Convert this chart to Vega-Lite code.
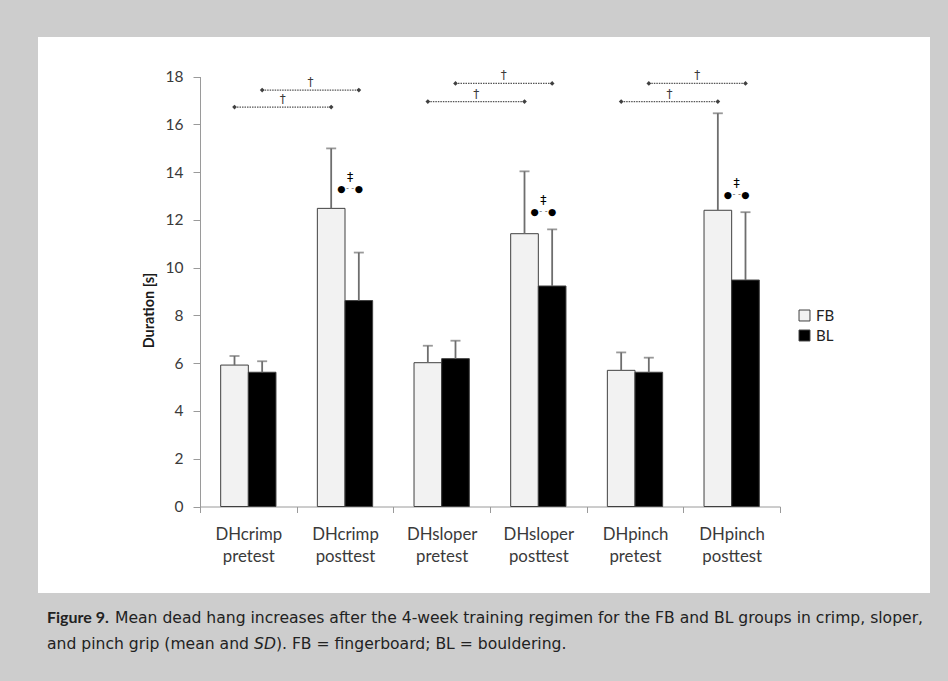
{
  "$schema": "https://vega.github.io/schema/vega-lite/v6.json",
  "background": "#cdcdcd",
  "padding": {"left": 38, "top": 37, "right": 18, "bottom": 24},
  "spacing": 12,
  "config": {"view": {"stroke": null}, "font": "Lato"},
  "datasets": {
    "bars": [
      {"cat": "DHcrimp pretest", "group": "FB", "mean": 5.92, "upper": 6.30},
      {"cat": "DHcrimp pretest", "group": "BL", "mean": 5.62, "upper": 6.08},
      {"cat": "DHcrimp posttest", "group": "FB", "mean": 12.48, "upper": 14.99},
      {"cat": "DHcrimp posttest", "group": "BL", "mean": 8.62, "upper": 10.63},
      {"cat": "DHsloper pretest", "group": "FB", "mean": 6.02, "upper": 6.73},
      {"cat": "DHsloper pretest", "group": "BL", "mean": 6.19, "upper": 6.94},
      {"cat": "DHsloper posttest", "group": "FB", "mean": 11.42, "upper": 14.03},
      {"cat": "DHsloper posttest", "group": "BL", "mean": 9.23, "upper": 11.60},
      {"cat": "DHpinch pretest", "group": "FB", "mean": 5.70, "upper": 6.45},
      {"cat": "DHpinch pretest", "group": "BL", "mean": 5.62, "upper": 6.23},
      {"cat": "DHpinch posttest", "group": "FB", "mean": 12.40, "upper": 16.46},
      {"cat": "DHpinch posttest", "group": "BL", "mean": 9.48, "upper": 12.32}
    ],
    "brackets": [
      {"id": "crimpFB", "cat": "DHcrimp pretest", "group": "FB", "level": 16.72},
      {"id": "crimpFB", "cat": "DHcrimp posttest", "group": "FB", "level": 16.72},
      {"id": "crimpBL", "cat": "DHcrimp pretest", "group": "BL", "level": 17.43},
      {"id": "crimpBL", "cat": "DHcrimp posttest", "group": "BL", "level": 17.43},
      {"id": "sloperFB", "cat": "DHsloper pretest", "group": "FB", "level": 16.95},
      {"id": "sloperFB", "cat": "DHsloper posttest", "group": "FB", "level": 16.95},
      {"id": "sloperBL", "cat": "DHsloper pretest", "group": "BL", "level": 17.71},
      {"id": "sloperBL", "cat": "DHsloper posttest", "group": "BL", "level": 17.71},
      {"id": "pinchFB", "cat": "DHpinch pretest", "group": "FB", "level": 16.95},
      {"id": "pinchFB", "cat": "DHpinch posttest", "group": "FB", "level": 16.95},
      {"id": "pinchBL", "cat": "DHpinch pretest", "group": "BL", "level": 17.71},
      {"id": "pinchBL", "cat": "DHpinch posttest", "group": "BL", "level": 17.71}
    ],
    "daggers": [
      {"cat": "DHcrimp pretest", "group": "FB", "level": 16.72},
      {"cat": "DHcrimp pretest", "group": "BL", "level": 17.43},
      {"cat": "DHsloper pretest", "group": "FB", "level": 16.95},
      {"cat": "DHsloper pretest", "group": "BL", "level": 17.71},
      {"cat": "DHpinch pretest", "group": "FB", "level": 16.95},
      {"cat": "DHpinch pretest", "group": "BL", "level": 17.71}
    ],
    "sig": [
      {"cat": "DHcrimp posttest", "group": "BL", "level": 13.28},
      {"cat": "DHsloper posttest", "group": "BL", "level": 12.32},
      {"cat": "DHpinch posttest", "group": "BL", "level": 13.03}
    ],
    "caption": [
      {"line": "1", "part": "label", "text": "Figure 9."},
      {"line": "1", "part": "body1", "text": "Mean dead hang increases after the 4-week training regimen for the FB and BL groups in crimp, sloper,"},
      {"line": "2", "part": "body2", "text": "and pinch grip (mean and "},
      {"line": "2", "part": "ital", "text": "SD"},
      {"line": "2", "part": "body3", "text": "). FB = fingerboard; BL = bouldering."}
    ]
  },
  "vconcat": [
    {
      "width": 892,
      "height": 556,
      "view": {"fill": "#ffffff", "stroke": null},
      "layer": [
        {
          "data": {"name": "bars"},
          "mark": {"type": "bar", "stroke": "#404040", "strokeWidth": 1},
          "encoding": {
            "x": {
              "field": "cat", "type": "nominal",
              "scale": {
                "domain": ["DHcrimp pretest", "DHcrimp posttest", "DHsloper pretest", "DHsloper posttest", "DHpinch pretest", "DHpinch posttest"],
                "range": [162, 742], "paddingInner": 0, "paddingOuter": 0
              },
              "axis": {
                "title": null, "orient": "bottom", "offset": -86.5, "tickBand": "extent",
                "labelAngle": 0, "labelExpr": "split(datum.label, ' ')",
                "labelFont": "Lato", "labelFontSize": 16.8, "labelColor": "#3a3a3a",
                "labelLineHeight": 22, "labelPadding": 14,
                "tickSize": 6, "tickColor": "#9a9a9a", "domainColor": "#9a9a9a"
              }
            },
            "xOffset": {
              "field": "group", "type": "nominal",
              "scale": {"domain": ["FB", "BL"], "paddingInner": 0, "paddingOuter": 0.748}
            },
            "y": {
              "field": "mean", "type": "quantitative",
              "scale": {"domain": [0, 18], "range": [469.5, 39.5], "nice": false},
              "axis": {
                "title": "Duration [s]", "orient": "left", "offset": -162,
                "values": [0, 2, 4, 6, 8, 10, 12, 14, 16, 18],
                "grid": false, "tickSize": 7, "tickColor": "#9a9a9a", "domainColor": "#9a9a9a",
                "labelFont": "Lato", "labelFontSize": 15.5, "labelColor": "#3a3a3a", "labelPadding": 10,
                "titleFont": "Lato", "titleFontWeight": "bold", "titleFontSize": 14.5, "titleColor": "#1a1a1a",
                "titlePadding": 9, "titleY": 273
              }
            },
            "color": {
              "field": "group", "type": "nominal",
              "scale": {"domain": ["FB", "BL"], "range": ["#f2f2f2", "#000000"]},
              "legend": {
                "orient": "none", "legendX": 759, "legendY": 271, "title": null, "padding": 0,
                "symbolType": "square", "symbolSize": 120, "symbolStrokeColor": "#404040", "symbolStrokeWidth": 1,
                "labelFont": "Lato", "labelFontSize": 15, "labelColor": "#222222", "rowPadding": 4, "labelOffset": 4
              }
            }
          }
        },
        {
          "data": {"name": "bars"},
          "mark": {"type": "rule", "color": "#6e6e6e", "strokeWidth": 1.8},
          "encoding": {
            "x": {"field": "cat", "type": "nominal"},
            "xOffset": {"field": "group", "type": "nominal"},
            "y": {"field": "mean", "type": "quantitative"},
            "y2": {"field": "upper"}
          }
        },
        {
          "data": {"name": "bars"},
          "mark": {"type": "tick", "color": "#6e6e6e", "thickness": 1.8, "size": 10, "orient": "horizontal"},
          "encoding": {
            "x": {"field": "cat", "type": "nominal"},
            "xOffset": {"field": "group", "type": "nominal"},
            "y": {"field": "upper", "type": "quantitative"}
          }
        },
        {
          "data": {"name": "brackets"},
          "mark": {"type": "line", "color": "#555555", "strokeWidth": 1.3, "strokeDash": [1.5, 1]},
          "encoding": {
            "x": {"field": "cat", "type": "nominal"},
            "xOffset": {"field": "group", "type": "nominal"},
            "y": {"field": "level", "type": "quantitative"},
            "detail": {"field": "id"}
          }
        },
        {
          "data": {"name": "brackets"},
          "mark": {"type": "point", "filled": true, "color": "#404040", "opacity": 1, "size": 22, "shape": "diamond"},
          "encoding": {
            "x": {"field": "cat", "type": "nominal"},
            "xOffset": {"field": "group", "type": "nominal"},
            "y": {"field": "level", "type": "quantitative"}
          }
        },
        {
          "data": {"name": "daggers"},
          "mark": {"type": "text", "text": "†", "dx": 48.33, "dy": -8, "fontSize": 12, "font": "DejaVu Sans", "color": "#3a3a3a", "baseline": "middle"},
          "encoding": {
            "x": {"field": "cat", "type": "nominal"},
            "xOffset": {"field": "group", "type": "nominal"},
            "y": {"field": "level", "type": "quantitative"}
          }
        },
        {
          "data": {"name": "sig"},
          "mark": {"type": "text", "text": "- -", "dx": -8.75, "fontSize": 8, "font": "DejaVu Sans", "color": "#666666", "baseline": "middle"},
          "encoding": {
            "x": {"field": "cat", "type": "nominal"},
            "xOffset": {"field": "group", "type": "nominal"},
            "y": {"field": "level", "type": "quantitative"}
          }
        },
        {
          "data": {"name": "sig"},
          "mark": {"type": "text", "text": "●", "dx": -17.5, "fontSize": 9.5, "font": "DejaVu Sans", "color": "#000000", "baseline": "middle"},
          "encoding": {
            "x": {"field": "cat", "type": "nominal"},
            "xOffset": {"field": "group", "type": "nominal"},
            "y": {"field": "level", "type": "quantitative"}
          }
        },
        {
          "data": {"name": "sig"},
          "mark": {"type": "text", "text": "●", "dx": 0, "fontSize": 9.5, "font": "DejaVu Sans", "color": "#000000", "baseline": "middle"},
          "encoding": {
            "x": {"field": "cat", "type": "nominal"},
            "xOffset": {"field": "group", "type": "nominal"},
            "y": {"field": "level", "type": "quantitative"}
          }
        },
        {
          "data": {"name": "sig"},
          "mark": {"type": "text", "text": "‡", "dx": -8.75, "dy": -12, "fontSize": 12.5, "font": "DejaVu Sans", "color": "#000000", "baseline": "middle"},
          "encoding": {
            "x": {"field": "cat", "type": "nominal"},
            "xOffset": {"field": "group", "type": "nominal"},
            "y": {"field": "level", "type": "quantitative"}
          }
        }
      ]
    },
    {
      "width": 892,
      "height": 52,
      "view": {"stroke": null},
      "data": {"name": "caption"},
      "encoding": {
        "x": {"datum": 0, "type": "quantitative", "scale": {"domain": [0, 1]}, "axis": null},
        "y": {"field": "line", "type": "ordinal", "axis": null},
        "text": {"field": "text"}
      },
      "layer": [
        {
          "transform": [{"filter": "datum.part == 'label'"}],
          "mark": {"type": "text", "align": "left", "baseline": "middle", "dx": 9, "font": "Lato", "fontSize": 16, "fontWeight": "bold", "color": "#222222"}
        },
        {
          "transform": [{"filter": "datum.part == 'body1'"}],
          "mark": {"type": "text", "align": "left", "baseline": "middle", "dx": 77, "font": "DejaVu Sans", "fontSize": 15.6, "color": "#222222"}
        },
        {
          "transform": [{"filter": "datum.part == 'body2'"}],
          "mark": {"type": "text", "align": "left", "baseline": "middle", "dx": 9, "font": "DejaVu Sans", "fontSize": 15.6, "color": "#222222"}
        },
        {
          "transform": [{"filter": "datum.part == 'ital'"}],
          "mark": {"type": "text", "align": "left", "baseline": "middle", "dx": 216, "font": "DejaVu Sans", "fontSize": 15.6, "fontStyle": "italic", "color": "#222222"}
        },
        {
          "transform": [{"filter": "datum.part == 'body3'"}],
          "mark": {"type": "text", "align": "left", "baseline": "middle", "dx": 237.9, "font": "DejaVu Sans", "fontSize": 15.6, "color": "#222222"}
        }
      ]
    }
  ]
}
